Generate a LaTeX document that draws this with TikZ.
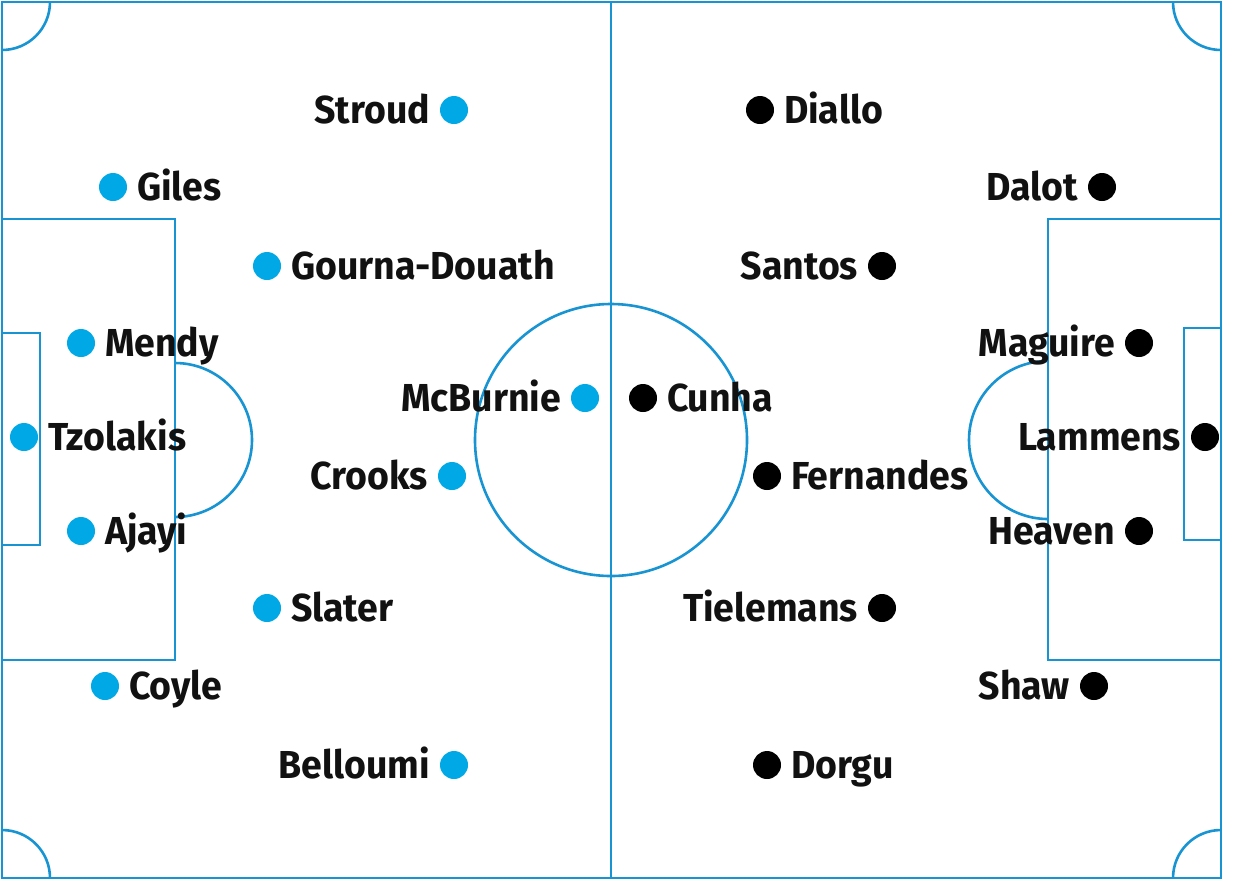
\documentclass[tikz,border=0pt]{standalone}
\usepackage{fontspec}
\setmainfont{Fira Sans}[FakeStretch=0.96]
\usetikzlibrary{positioning}
\definecolor{pitch}{RGB}{24,148,210}
\definecolor{teamblue}{RGB}{0,168,230}
\definecolor{ink}{RGB}{17,17,17}
\tikzset{
  field/.style={draw=pitch, line width=1.3pt},
  dotbase/.style={circle, inner sep=0pt, outer sep=0pt, minimum size=14pt},
  bdot/.style={dotbase, fill=teamblue},
  kdot/.style={dotbase, fill=black},
  lab/.style={inner sep=0pt, outer sep=0pt, text height=13.5pt, text depth=0pt,
    text=ink, font=\fontsize{19.5}{20}\selectfont\bfseries},
}
\begin{document}
\begin{tikzpicture}[x=0.5pt,y=-0.5pt]
\useasboundingbox (0,0) rectangle (1240,880);
\fill[white] (0,0) rectangle (1240,880);
% pitch
\draw[field] (2,2) rectangle (1221,878);
\draw[field] (611,2) -- (611,878);
\draw[field] (611,440) circle[radius=136];
% penalty boxes
\draw[field] (2,219) rectangle (175,660);
\draw[field] (1048,219) rectangle (1221,660);
% goal areas
\draw[field] (2,333) rectangle (40,545);
\draw[field] (1184,328) rectangle (1221,540);
% penalty arcs
\begin{scope}
  \clip (175,0) rectangle (400,880);
  \draw[field] (175,440) circle[radius=77];
\end{scope}
\begin{scope}
  \clip (800,0) rectangle (1048,880);
  \draw[field] (1048,440) circle[radius=79];
\end{scope}
% corner arcs
\begin{scope}
  \clip (2,2) rectangle (1221,878);
  \draw[field] (2,2) circle[radius=48];
  \draw[field] (1221,2) circle[radius=48];
  \draw[field] (2,878) circle[radius=48];
  \draw[field] (1221,878) circle[radius=48];
\end{scope}
% blue team
\node[bdot] (stroud) at (454,110) {};
\node[lab, left=5pt of stroud] (stroudL) {Stroud};
\node[bdot] (giles) at (113,187) {};
\node[lab, right=5pt of giles] (gilesL) {Giles};
\node[bdot] (gourna) at (267,266) {};
\node[lab, right=5pt of gourna] (gournaL) {Gourna-Douath};
\node[bdot] (mendy) at (81,343) {};
\node[lab, right=5pt of mendy] (mendyL) {Mendy};
\node[bdot] (mcburnie) at (585,398) {};
\node[lab, left=5pt of mcburnie] (mcburnieL) {McBurnie};
\node[bdot] (tzolakis) at (24,437) {};
\node[lab, right=5pt of tzolakis] (tzolakisL) {Tzolakis};
\node[bdot] (crooks) at (452,476) {};
\node[lab, left=5pt of crooks] (crooksL) {Crooks};
\node[bdot] (ajayi) at (81,531) {};
\node[lab, right=5pt of ajayi] (ajayiL) {Ajayi};
\node[bdot] (slater) at (267,608) {};
\node[lab, right=5pt of slater] (slaterL) {Slater};
\node[bdot] (coyle) at (105,686) {};
\node[lab, right=5pt of coyle] (coyleL) {Coyle};
\node[bdot] (belloumi) at (454,765) {};
\node[lab, left=5pt of belloumi] (belloumiL) {Belloumi};
% black team
\node[kdot] (diallo) at (760,110) {};
\node[lab, right=5pt of diallo] (dialloL) {Diallo};
\node[kdot] (dalot) at (1102,187) {};
\node[lab, left=5pt of dalot] (dalotL) {Dalot};
\node[kdot] (santos) at (882,266) {};
\node[lab, left=5pt of santos] (santosL) {Santos};
\node[kdot] (maguire) at (1139,343) {};
\node[lab, left=5pt of maguire] (maguireL) {Maguire};
\node[kdot] (cunha) at (643,398) {};
\node[lab, right=5pt of cunha] (cunhaL) {Cunha};
\node[kdot] (lammens) at (1205,437) {};
\node[lab, left=5pt of lammens] (lammensL) {Lammens};
\node[kdot] (fernandes) at (767,476) {};
\node[lab, right=5pt of fernandes] (fernandesL) {Fernandes};
\node[kdot] (heaven) at (1139,531) {};
\node[lab, left=5pt of heaven] (heavenL) {Heaven};
\node[kdot] (tielemans) at (882,608) {};
\node[lab, left=5pt of tielemans] (tielemansL) {Tielemans};
\node[kdot] (shaw) at (1094,686) {};
\node[lab, left=5pt of shaw] (shawL) {Shaw};
\node[kdot] (dorgu) at (767,765) {};
\node[lab, right=5pt of dorgu] (dorguL) {Dorgu};
\end{tikzpicture}
\end{document}
